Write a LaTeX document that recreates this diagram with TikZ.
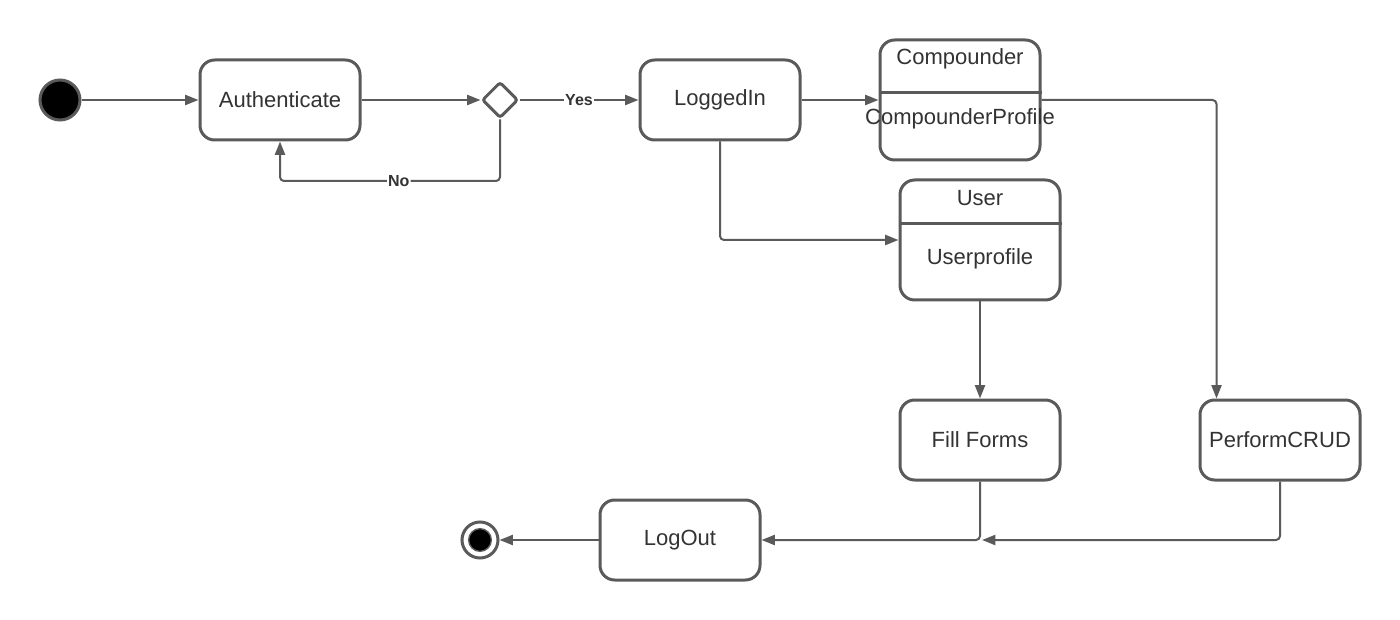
\documentclass[tikz,border=0pt]{standalone}
\usepackage{fontspec}
\setmainfont{Liberation Sans}
\usetikzlibrary{arrows.meta,calc,shapes.geometric}
\definecolor{ln}{HTML}{5A5A5A}
\definecolor{tx}{HTML}{333333}
\begin{document}
\begin{tikzpicture}[x=0.75pt,y=-0.75pt,
  state/.style={draw=ln,line width=2.25pt,rounded corners=11pt,fill=white,minimum width=120pt,minimum height=60pt,inner sep=0pt,font=\fontsize{16.5}{18}\selectfont,text=tx},
  tall/.style={state,minimum height=90pt},
  txt/.style={font=\fontsize{16.5}{18}\selectfont,text=tx,inner sep=0pt},
  arr/.style={draw=ln,line width=1.5pt,-{Triangle[length=10pt,width=7.5pt]},rounded corners=3pt},
  lbl/.style={fill=white,font=\bfseries\fontsize{12}{14}\selectfont,text=tx,inner sep=0.8pt},
  divider/.style={draw=ln,line width=2.25pt}
  ]
\useasboundingbox[fill=white] (0,0) rectangle (1400,620);

% nodes
\node[circle,fill=black,draw=ln,line width=2.25pt,minimum size=30pt,inner sep=0pt] (start) at (60,100) {};
\node[state] (auth) at (280,100) {Authenticate};
\node[diamond,draw=ln,line width=2.25pt,fill=white,minimum width=27pt,minimum height=27pt,aspect=1,inner sep=0pt,rounded corners=2pt] (dec) at (500,100) {};
\node[state] (login) at (720,100) {LoggedIn};

\node[tall] (comp) at (960,100) {};
\draw[divider] (comp.west |- 0,93) -- (comp.east |- 0,93);
\node[txt] (compT) at (960,59) {Compounder};
\node[txt] (compP) at (960,119) {CompounderProfile};

\node[tall] (user) at (980,240) {};
\draw[divider] (user.west |- 0,224) -- (user.east |- 0,224);
\node[txt] (userT) at (980,198) {User};
\node[txt] (userP) at (980,259) {Userprofile};

\node[state] (fill) at (980,440) {Fill Forms};
\node[state] (crud) at (1280,440) {PerformCRUD};
\node[state] (logout) at (680,540) {LogOut};

\node[circle,draw=ln,line width=2.25pt,fill=white,minimum size=27pt,inner sep=0pt] (end) at (480,540) {};
\node[circle,fill=black,draw=ln,line width=1pt,minimum size=17pt,inner sep=0pt] (endin) at (480,540) {};

\coordinate (j) at (982,540);
\coordinate (crudin) at ($(crud.north west)+(18,0)$);

% connectors
\draw[arr] (start) -- (auth);
\draw[arr] (auth) -- (dec);
\draw[arr] (dec) -- node[lbl] {Yes} (login);
\draw[arr] (dec.south) -- (dec.south |- 0,181) -| node[lbl,pos=0.23] {No} (auth.south);
\draw[arr] (login) -- (comp.west);
\draw[arr] (comp.east) -| (crudin);
\draw[arr] (login.south) |- (user.west);
\draw[arr] (user.south) -- (fill.north);
\draw[arr] (fill.south) |- (logout.east);
\draw[arr] (crud.south) |- (j);
\draw[arr] (logout.west) -- (end);
\end{tikzpicture}
\end{document}
